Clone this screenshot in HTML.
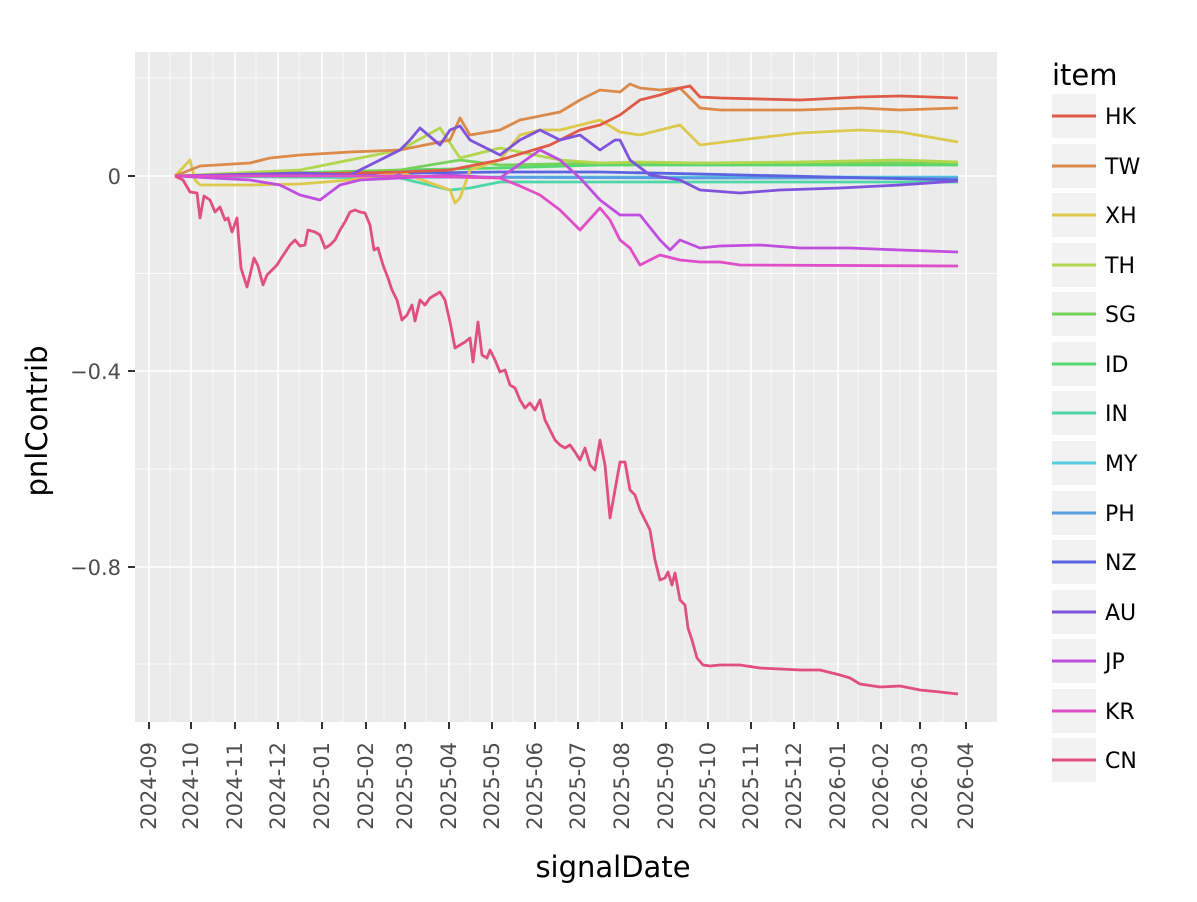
<!DOCTYPE html>
<html><head><meta charset="utf-8"><style>body{margin:0;background:#fff}svg{display:block}</style></head><body>
<svg width="1197" height="902" xmlns="http://www.w3.org/2000/svg" font-family="DejaVu Sans, Liberation Sans, sans-serif">
<rect width="1197" height="902" fill="#fff"/>
<rect x="135" y="52" width="862" height="670" fill="#ebebeb"/>
<g stroke="#fff" stroke-width="0.7">
<line x1="135" x2="997" y1="78" y2="78"/><line x1="135" x2="997" y1="273.5" y2="273.5"/><line x1="135" x2="997" y1="469" y2="469"/><line x1="135" x2="997" y1="664" y2="664"/>
<line y1="52" y2="722" x1="170" x2="170"/><line y1="52" y2="722" x1="213" x2="213"/><line y1="52" y2="722" x1="256" x2="256"/><line y1="52" y2="722" x1="299" x2="299"/><line y1="52" y2="722" x1="343" x2="343"/><line y1="52" y2="722" x1="384" x2="384"/><line y1="52" y2="722" x1="426" x2="426"/><line y1="52" y2="722" x1="470" x2="470"/><line y1="52" y2="722" x1="513" x2="513"/><line y1="52" y2="722" x1="556" x2="556"/><line y1="52" y2="722" x1="599" x2="599"/><line y1="52" y2="722" x1="642" x2="642"/><line y1="52" y2="722" x1="685" x2="685"/><line y1="52" y2="722" x1="728" x2="728"/><line y1="52" y2="722" x1="771" x2="771"/><line y1="52" y2="722" x1="814" x2="814"/><line y1="52" y2="722" x1="858" x2="858"/><line y1="52" y2="722" x1="900" x2="900"/><line y1="52" y2="722" x1="943" x2="943"/>
</g>
<g stroke="#fff" stroke-width="1.5">
<line x1="135" x2="997" y1="176" y2="176"/><line x1="135" x2="997" y1="371" y2="371"/><line x1="135" x2="997" y1="567" y2="567"/>
<line y1="52" y2="722" x1="149" x2="149"/><line y1="52" y2="722" x1="191" x2="191"/><line y1="52" y2="722" x1="235" x2="235"/><line y1="52" y2="722" x1="278" x2="278"/><line y1="52" y2="722" x1="322" x2="322"/><line y1="52" y2="722" x1="366" x2="366"/><line y1="52" y2="722" x1="405" x2="405"/><line y1="52" y2="722" x1="449" x2="449"/><line y1="52" y2="722" x1="492" x2="492"/><line y1="52" y2="722" x1="535" x2="535"/><line y1="52" y2="722" x1="578" x2="578"/><line y1="52" y2="722" x1="622" x2="622"/><line y1="52" y2="722" x1="666" x2="666"/><line y1="52" y2="722" x1="708" x2="708"/><line y1="52" y2="722" x1="751" x2="751"/><line y1="52" y2="722" x1="794" x2="794"/><line y1="52" y2="722" x1="838" x2="838"/><line y1="52" y2="722" x1="881" x2="881"/><line y1="52" y2="722" x1="920" x2="920"/><line y1="52" y2="722" x1="966" x2="966"/>
</g>
<g fill="none" stroke-width="2.8" stroke-linejoin="round">
<polyline stroke="#55cfdf" points="175,176 400,177 700,177 958,177"/>
<polyline stroke="#5a9fe0" points="175,176 400,177 700,178 958,178"/>
<polyline stroke="#55d872" points="175,176 300,175 400,170 500,168 600,165 958,165"/>
<polyline stroke="#76d35a" points="175,176 400,170 460,160 500,165 600,163 958,163"/>
<polyline stroke="#4fd6a8" points="175,176 400,178 450,190 470,188 500,182 600,182 958,182"/>
<polyline stroke="#5a64e0" points="175,176 500,172 600,172 700,174 958,180"/>
<polyline stroke="#b2d64d" points="175,176 300,170 400,150 440,128 460,158 500,148 560,160 600,163 640,162 700,163 800,162 900,160 958,162"/>
<polyline stroke="#dcc94e" points="175,176 190,160 195,180 200,185 250,185 300,184 350,180 400,172 450,190 455,203 460,198 470,170 500,160 520,135 540,130 560,130 580,125 600,120 620,132 640,135 660,130 680,125 700,145 740,140 800,133 860,130 900,132 958,142"/>
<polyline stroke="#da8a4a" points="175,176 200,166 250,163 270,158 300,155 350,152 400,150 450,140 460,118 470,135 500,130 520,120 560,112 580,100 600,90 620,92 630,84 640,88 660,90 680,88 700,108 720,110 800,110 860,108 900,110 958,108"/>
<polyline stroke="#e05a48" points="175,176 300,174 400,172 450,170 500,160 550,145 580,130 600,125 620,115 640,100 660,95 680,88 690,86 700,97 720,98 800,100 860,97 900,96 930,97 958,98"/>
<polyline stroke="#7f53dc" points="175,176 300,173 350,175 380,160 400,150 410,140 420,128 440,145 450,130 460,126 470,140 490,150 500,155 520,140 540,130 560,140 580,135 600,150 615,140 620,140 630,160 650,175 680,180 700,190 740,193 780,190 840,188 900,185 958,181"/>
<polyline stroke="#c04fe0" points="175,176 250,180 280,185 300,195 320,200 340,185 360,180 400,178 450,175 500,178 540,150 560,160 580,178 600,200 620,215 640,215 660,240 670,250 680,240 700,248 720,246 760,245 800,248 850,248 900,250 958,252"/>
<polyline stroke="#e04fc8" points="175,176 400,176 500,178 520,186 540,195 560,210 580,230 600,208 610,220 620,240 630,248 640,265 660,255 680,260 700,262 720,262 740,265 958,266"/>
<polyline stroke="#e04f7f" points="175,176 183,180 190,192 197,193 200,218 204,196 210,200 215,212 220,207 225,220 228,218 232,232 237,218 241,268 247,287 250,275 254,258 258,266 263,285 267,275 272,270 277,265 282,257 290,245 295,240 300,246 305,245 308,230 315,232 320,235 325,248 330,245 335,240 340,230 345,222 350,212 355,210 360,212 365,213 370,225 374,250 378,248 383,265 388,278 392,290 397,300 402,320 407,315 412,305 415,321 420,300 425,305 430,298 435,295 440,292 445,300 450,322 455,348 460,345 465,342 470,338 473,362 478,322 482,355 487,358 490,350 495,360 500,372 505,370 510,385 515,388 520,400 525,408 530,403 535,410 540,400 545,420 550,430 555,440 560,445 565,448 570,445 575,452 580,460 585,448 590,465 595,470 600,440 605,465 610,518 615,490 620,462 625,462 630,490 635,495 640,510 645,520 650,530 655,560 660,580 665,578 668,572 672,585 675,573 680,600 685,605 688,628 692,640 697,658 703,665 710,666 720,665 740,665 760,668 780,669 800,670 820,670 840,675 850,678 860,684 880,687 900,686 920,690 940,692 958,694"/>
</g>
<g stroke="#333" stroke-width="2">
<line x1="128" x2="135" y1="176" y2="176"/><line x1="128" x2="135" y1="371" y2="371"/><line x1="128" x2="135" y1="567" y2="567"/>
</g>
<g fill="#4d4d4d" font-size="21" text-anchor="end">
<text x="121" y="184">0</text><text x="121" y="379">−0.4</text><text x="121" y="575">−0.8</text>
</g>
<g stroke="#333" stroke-width="2">
<path d="M149 722v7M191 722v7M235 722v7M278 722v7M322 722v7M366 722v7M405 722v7M449 722v7M492 722v7M535 722v7M578 722v7M622 722v7M666 722v7M708 722v7M751 722v7M794 722v7M838 722v7M881 722v7M920 722v7M966 722v7"/>
</g>
<g fill="#4d4d4d" font-size="21" text-anchor="end">
<text transform="translate(156,742) rotate(-90)">2024-09</text><text transform="translate(198,742) rotate(-90)">2024-10</text><text transform="translate(242,742) rotate(-90)">2024-11</text><text transform="translate(285,742) rotate(-90)">2024-12</text><text transform="translate(329,742) rotate(-90)">2025-01</text><text transform="translate(373,742) rotate(-90)">2025-02</text><text transform="translate(412,742) rotate(-90)">2025-03</text><text transform="translate(456,742) rotate(-90)">2025-04</text><text transform="translate(499,742) rotate(-90)">2025-05</text><text transform="translate(542,742) rotate(-90)">2025-06</text><text transform="translate(585,742) rotate(-90)">2025-07</text><text transform="translate(629,742) rotate(-90)">2025-08</text><text transform="translate(673,742) rotate(-90)">2025-09</text><text transform="translate(715,742) rotate(-90)">2025-10</text><text transform="translate(758,742) rotate(-90)">2025-11</text><text transform="translate(801,742) rotate(-90)">2025-12</text><text transform="translate(845,742) rotate(-90)">2026-01</text><text transform="translate(888,742) rotate(-90)">2026-02</text><text transform="translate(927,742) rotate(-90)">2026-03</text><text transform="translate(973,742) rotate(-90)">2026-04</text>
</g>
<text x="613" y="877" font-size="29" text-anchor="middle" fill="#000">signalDate</text>
<text transform="translate(47,421) rotate(-90)" font-size="29" text-anchor="middle" fill="#000">pnlContrib</text>
<text x="1052" y="85" font-size="29" fill="#000">item</text>
<g font-size="22" fill="#000">
<rect x="1052" y="94" width="44" height="44" fill="#f2f2f2"/><line x1="1052" x2="1096" y1="116" y2="116" stroke="#e05a48" stroke-width="3"/><text x="1105" y="124">HK</text>
<rect x="1052" y="144" width="44" height="44" fill="#f2f2f2"/><line x1="1052" x2="1096" y1="166" y2="166" stroke="#da8a4a" stroke-width="3"/><text x="1105" y="174">TW</text>
<rect x="1052" y="193" width="44" height="44" fill="#f2f2f2"/><line x1="1052" x2="1096" y1="215" y2="215" stroke="#dcc94e" stroke-width="3"/><text x="1105" y="223">XH</text>
<rect x="1052" y="243" width="44" height="44" fill="#f2f2f2"/><line x1="1052" x2="1096" y1="265" y2="265" stroke="#b2d64d" stroke-width="3"/><text x="1105" y="273">TH</text>
<rect x="1052" y="292" width="44" height="44" fill="#f2f2f2"/><line x1="1052" x2="1096" y1="314" y2="314" stroke="#76d35a" stroke-width="3"/><text x="1105" y="322">SG</text>
<rect x="1052" y="342" width="44" height="44" fill="#f2f2f2"/><line x1="1052" x2="1096" y1="364" y2="364" stroke="#55d872" stroke-width="3"/><text x="1105" y="372">ID</text>
<rect x="1052" y="391" width="44" height="44" fill="#f2f2f2"/><line x1="1052" x2="1096" y1="413" y2="413" stroke="#4fd6a8" stroke-width="3"/><text x="1105" y="421">IN</text>
<rect x="1052" y="441" width="44" height="44" fill="#f2f2f2"/><line x1="1052" x2="1096" y1="463" y2="463" stroke="#55cfdf" stroke-width="3"/><text x="1105" y="471">MY</text>
<rect x="1052" y="491" width="44" height="44" fill="#f2f2f2"/><line x1="1052" x2="1096" y1="513" y2="513" stroke="#5a9fe0" stroke-width="3"/><text x="1105" y="521">PH</text>
<rect x="1052" y="540" width="44" height="44" fill="#f2f2f2"/><line x1="1052" x2="1096" y1="562" y2="562" stroke="#5a64e0" stroke-width="3"/><text x="1105" y="570">NZ</text>
<rect x="1052" y="590" width="44" height="44" fill="#f2f2f2"/><line x1="1052" x2="1096" y1="612" y2="612" stroke="#7f53dc" stroke-width="3"/><text x="1105" y="620">AU</text>
<rect x="1052" y="639" width="44" height="44" fill="#f2f2f2"/><line x1="1052" x2="1096" y1="661" y2="661" stroke="#c04fe0" stroke-width="3"/><text x="1105" y="669">JP</text>
<rect x="1052" y="689" width="44" height="44" fill="#f2f2f2"/><line x1="1052" x2="1096" y1="711" y2="711" stroke="#e04fc8" stroke-width="3"/><text x="1105" y="719">KR</text>
<rect x="1052" y="738" width="44" height="44" fill="#f2f2f2"/><line x1="1052" x2="1096" y1="760" y2="760" stroke="#e04f7f" stroke-width="3"/><text x="1105" y="768">CN</text>
</g>
</svg>
</body></html>
